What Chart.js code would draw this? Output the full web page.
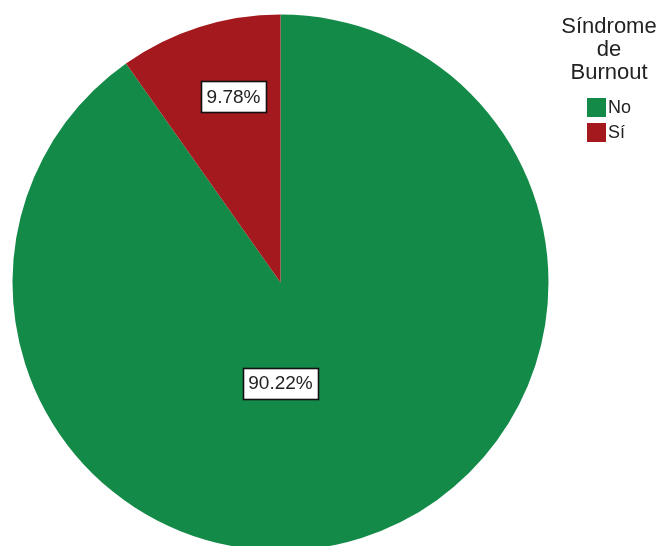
<!DOCTYPE html>
<html>
<head>
<meta charset="utf-8">
<script src="https://cdn.jsdelivr.net/npm/chart.js@4/dist/chart.umd.min.js"></script>
<style>
  html, body { margin: 0; padding: 0; background: #fff; overflow: hidden; }
  #wrap { position: relative; width: 662px; height: 546px; overflow: hidden; }
  #c { position: absolute; left: 0; top: 0; }
  #legend { position: absolute; left: 558px; top: 13.5px; width: 102px;
    font-family: "Liberation Sans", Arial, sans-serif; color: #222; }
  #legend .title { text-align: center; font-size: 22px; line-height: 23px; }
  #legend .item { position: absolute; left: 29px; font-size: 18px; line-height: 18px; white-space: nowrap; }
  #legend .box { display: inline-block; width: 19px; height: 19px; vertical-align: top; margin-right: 2px; }
</style>
</head>
<body>
<div id="wrap">
  <canvas id="c" width="662" height="566"></canvas>
  <div id="legend"></div>
</div>
<script>
const legendTitle = ["Síndrome", "de", "Burnout"];
const categories = ["No", "Sí"];
const percentages = [90.22, 9.78];
const colors = ["#138A48", "#A3191D"];

// legend (HTML text)
const lg = document.getElementById('legend');
const t = document.createElement('div');
t.className = 'title';
t.innerHTML = legendTitle.join('<br>');
lg.appendChild(t);
categories.forEach((c, i) => {
  const it = document.createElement('div');
  it.className = 'item';
  it.style.top = (84.5 + i * 24.5) + 'px';
  const b = document.createElement('span');
  b.className = 'box';
  b.style.background = colors[i];
  it.appendChild(b);
  it.appendChild(document.createTextNode(c));
  lg.appendChild(it);
});

const labelPlugin = {
  id: 'boxLabels',
  afterDatasetsDraw(chart, args, opts) {
    const ctx = chart.ctx;
    const meta = chart.getDatasetMeta(0);
    meta.data.forEach((arc, i) => {
      const p = arc.getProps(['x', 'y', 'startAngle', 'endAngle', 'outerRadius'], true);
      const frac = (p.endAngle - p.startAngle) / (2 * Math.PI);
      let ang, rf;
      if (frac > 0.5) { ang = Math.PI / 2; rf = opts.bigRadius; }
      else { ang = (p.startAngle + p.endAngle) / 2 + opts.smallAngleShift; rf = opts.smallRadius; }
      const cx = p.x + Math.cos(ang) * p.outerRadius * rf;
      const cy = p.y + Math.sin(ang) * p.outerRadius * rf;
      const txt = chart.data.datasets[0].data[i].toFixed(2) + '%';
      ctx.save();
      ctx.font = '19px "Liberation Sans", Arial, sans-serif';
      const w = ctx.measureText(txt).width + 11;
      const h = 31;
      ctx.fillStyle = '#fff';
      ctx.fillRect(Math.round(cx - w / 2), Math.round(cy - h / 2), Math.round(w), h);
      ctx.strokeStyle = '#111';
      ctx.lineWidth = 1.6;
      ctx.strokeRect(Math.round(cx - w / 2) + 0.5, Math.round(cy - h / 2) + 0.5, Math.round(w), h);
      ctx.fillStyle = '#222';
      ctx.textAlign = 'center';
      ctx.textBaseline = 'middle';
      ctx.fillText(txt, cx, cy + 1);
      ctx.restore();
    });
  }
};

new Chart(document.getElementById('c'), {
  type: 'pie',
  data: {
    labels: categories,
    datasets: [{
      data: percentages,
      backgroundColor: colors,
      borderWidth: 0
    }]
  },
  options: {
    responsive: false,
    animation: false,
    layout: { padding: { left: 12.5, top: 14.5, right: 113.5, bottom: 15.5 } },
    plugins: {
      legend: { display: false },
      tooltip: { enabled: false },
      boxLabels: { bigRadius: 0.375, smallRadius: 0.716, smallAngleShift: 0.06 }
    }
  },
  plugins: [labelPlugin]
});
</script>
</body>
</html>
